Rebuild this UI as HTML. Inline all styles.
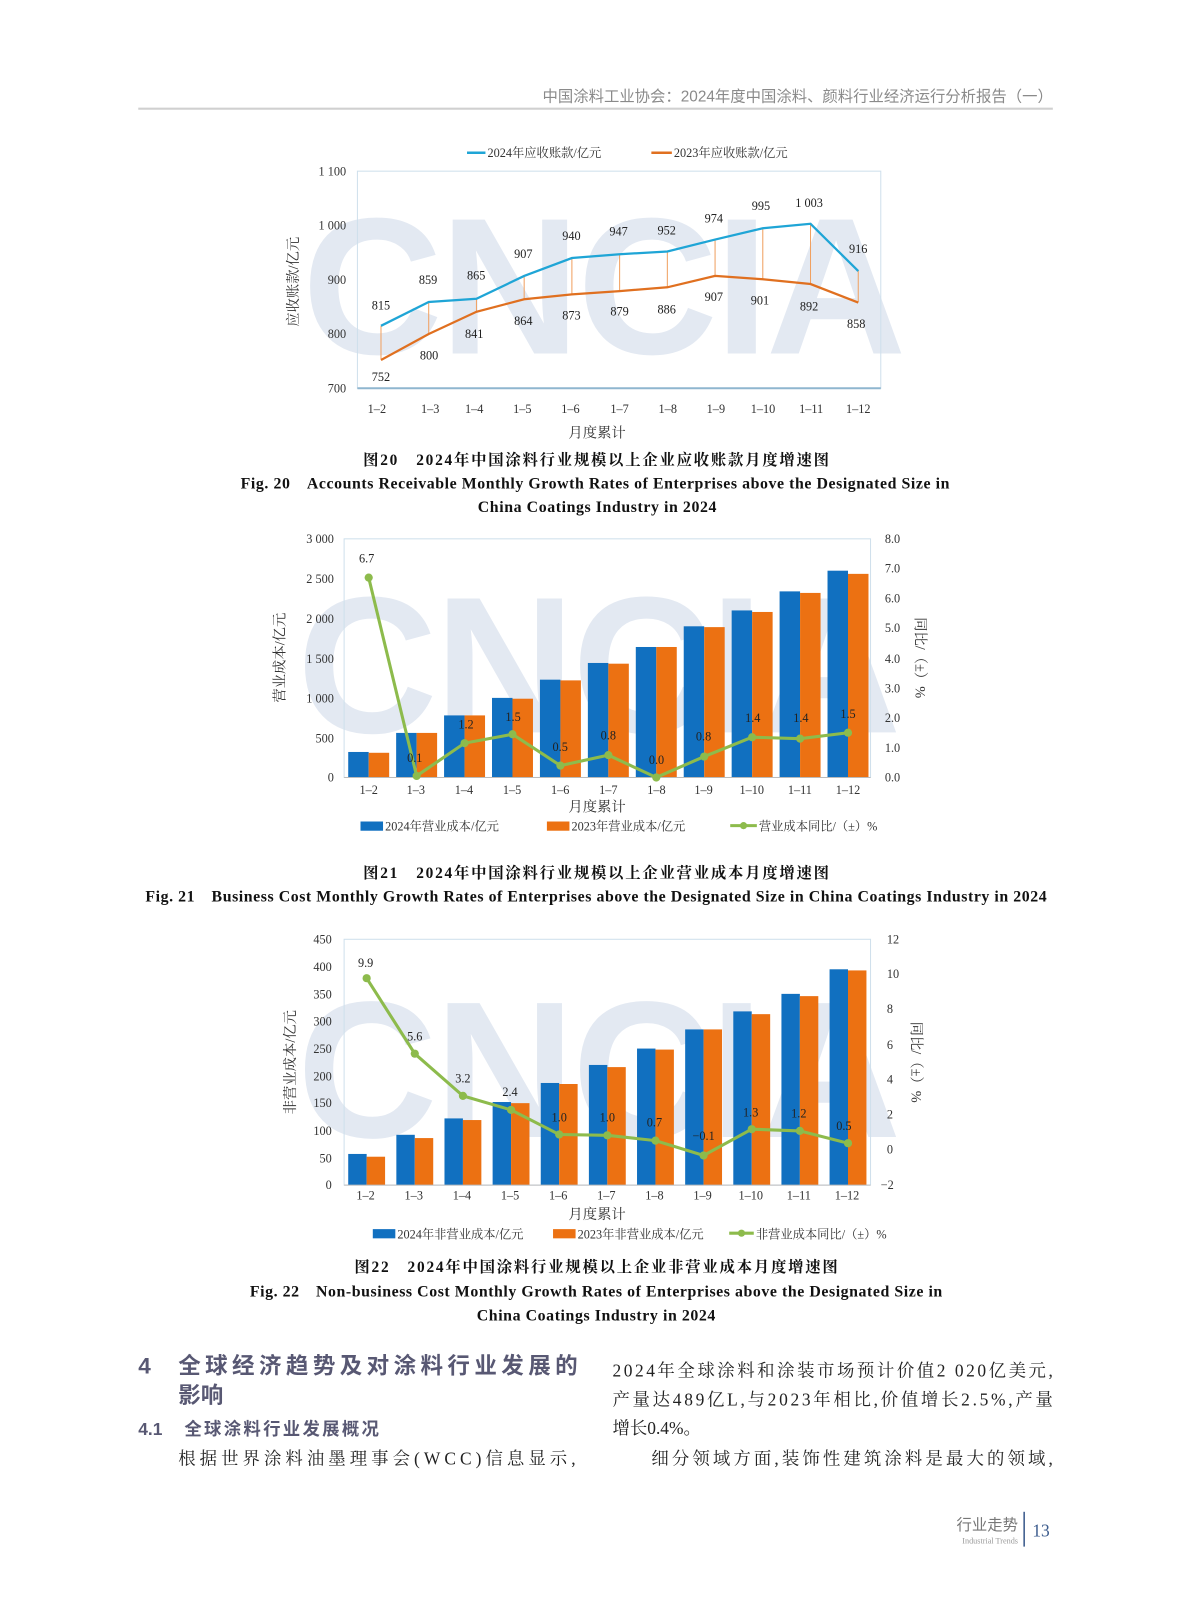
<!DOCTYPE html>
<html><head><meta charset="utf-8"><style>
html,body{margin:0;padding:0;background:#fff;}
svg{display:block;}
text{font-family:"Liberation Serif","Noto Serif CJK SC",serif;}
text.s,.s text{font-family:"Liberation Sans","Noto Sans CJK SC",sans-serif;}
</style></head><body>
<svg width="1187" height="1600" viewBox="0 0 1159 1562" xmlns="http://www.w3.org/2000/svg">
<rect width="1159" height="1562" fill="#fff"/>
<text x="1028" y="99" text-anchor="end" font-size="15" fill="#8a8a8a" class="s">中国涂料工业协会：2024年度中国涂料、颜料行业经济运行分析报告（一）</text>
<line x1="135" y1="106" x2="1028" y2="106" stroke="#d0d0d0" stroke-width="2"/>

<!-- ===== Chart 20 ===== -->
<text x="590" y="345" text-anchor="middle" font-size="190" font-weight="bold" fill="#e3e9f2" class="s" textLength="590">CNCIA</text>
<line x1="456" y1="149" x2="474" y2="149" stroke="#1fa5d6" stroke-width="2.5"/>
<text x="476" y="153" font-size="12" fill="#333">2024年应收账款/亿元</text>
<line x1="636" y1="149" x2="656" y2="149" stroke="#e07020" stroke-width="2.5"/>
<text x="658" y="153" font-size="12" fill="#333">2023年应收账款/亿元</text>
<rect x="349" y="167" width="511" height="212" fill="none" stroke="#cfe0ec" stroke-width="1"/>
<line x1="349" y1="379" x2="860" y2="379" stroke="#8fb6cf" stroke-width="2"/>
<g font-size="12" fill="#333" text-anchor="end">
<text x="338" y="171">1 100</text><text x="338" y="224">1 000</text><text x="338" y="277">900</text><text x="338" y="330">800</text><text x="338" y="383">700</text>
</g>
<text transform="translate(291,275) rotate(-90)" text-anchor="middle" font-size="14" fill="#333">应收账款/亿元</text>
<g font-size="12" fill="#333" text-anchor="middle">
<text x="368" y="403">1–2</text><text x="420" y="403">1–3</text><text x="463" y="403">1–4</text><text x="510" y="403">1–5</text><text x="557" y="403">1–6</text><text x="605" y="403">1–7</text><text x="652" y="403">1–8</text><text x="699" y="403">1–9</text><text x="745" y="403">1–10</text><text x="792" y="403">1–11</text><text x="838" y="403">1–12</text>
</g>
<text x="583" y="427" text-anchor="middle" font-size="14" fill="#333">月度累计</text>
<g stroke="#f0a060" stroke-width="1">
<line x1="372" y1="318" x2="372" y2="351"/><line x1="418.6" y1="295" x2="418.6" y2="326"/><line x1="465.2" y1="292" x2="465.2" y2="304"/><line x1="511.8" y1="269" x2="511.8" y2="292"/><line x1="558.4" y1="252" x2="558.4" y2="287"/><line x1="605" y1="248" x2="605" y2="284"/><line x1="651.6" y1="245" x2="651.6" y2="280"/><line x1="698.2" y1="234" x2="698.2" y2="269"/><line x1="744.8" y1="223" x2="744.8" y2="272"/><line x1="791.4" y1="218" x2="791.4" y2="277"/><line x1="838" y1="264" x2="838" y2="295"/>
</g>
<polyline fill="none" stroke="#1fa5d6" stroke-width="2.2" points="372,318 418.6,294.7 465.2,291.6 511.8,269.3 558.4,251.8 605,248.1 651.6,245.4 698.2,233.8 744.8,222.7 791.4,218.4 838,264.5"/>
<polyline fill="none" stroke="#e07020" stroke-width="2.2" points="372,351.4 418.6,326 465.2,304.3 511.8,292.1 558.4,287.3 605,284.1 651.6,280.4 698.2,269.3 744.8,272.5 791.4,277.2 838,295.3"/>
<g font-size="12" fill="#222" text-anchor="middle">
<text x="372" y="302">815</text><text x="418" y="277">859</text><text x="465" y="273">865</text><text x="511" y="252">907</text><text x="558" y="234">940</text><text x="604" y="230">947</text><text x="651" y="229">952</text><text x="697" y="217">974</text><text x="743" y="205">995</text><text x="790" y="202">1 003</text><text x="838" y="247">916</text>
<text x="372" y="372">752</text><text x="419" y="351">800</text><text x="463" y="330">841</text><text x="511" y="317">864</text><text x="558" y="312">873</text><text x="605" y="308">879</text><text x="651" y="306">886</text><text x="697" y="294">907</text><text x="742" y="297">901</text><text x="790" y="303">892</text><text x="836" y="320">858</text>
</g>
<text x="582" y="454" text-anchor="middle" font-size="15" font-weight="bold" fill="#111" textLength="455">图20　2024年中国涂料行业规模以上企业应收账款月度增速图</text>
<text x="581" y="477" text-anchor="middle" font-size="15.5" font-weight="bold" fill="#111" textLength="692">Fig. 20　Accounts Receivable Monthly Growth Rates of Enterprises above the Designated Size in</text>
<text x="583" y="500" text-anchor="middle" font-size="15.5" font-weight="bold" fill="#111" textLength="233">China Coatings Industry in 2024</text>

<!-- ===== Chart 21 ===== -->
<text x="585" y="715" text-anchor="middle" font-size="190" font-weight="bold" fill="#e3e9f2" class="s" textLength="590">CNCIA</text>
<rect x="336" y="526" width="514" height="233" fill="none" stroke="#cfe0ec"/>
<g font-size="12" fill="#333" text-anchor="end">
<text x="326" y="530">3 000</text><text x="326" y="569">2 500</text><text x="326" y="608">2 000</text><text x="326" y="647">1 500</text><text x="326" y="686">1 000</text><text x="326" y="725">500</text><text x="326" y="763">0</text>
</g>
<g font-size="12" fill="#333">
<text x="864" y="530">8.0</text><text x="864" y="559">7.0</text><text x="864" y="588">6.0</text><text x="864" y="617">5.0</text><text x="864" y="647">4.0</text><text x="864" y="676">3.0</text><text x="864" y="705">2.0</text><text x="864" y="734">1.0</text><text x="864" y="763">0.0</text>
</g>
<text transform="translate(278,642) rotate(-90)" text-anchor="middle" font-size="14" fill="#333">营业成本/亿元</text>
<text transform="translate(894,642) rotate(90)" text-anchor="middle" font-size="14" fill="#333">同比/（±）%</text>
<g fill="#1170c0">
<rect x="340" y="734.1" width="20" height="24.9"/><rect x="386.8" y="715.5" width="20" height="43.5"/><rect x="433.6" y="698.4" width="20" height="60.6"/><rect x="480.4" y="681.3" width="20" height="77.7"/><rect x="527.2" y="663.5" width="20" height="95.5"/><rect x="574" y="647.2" width="20" height="111.8"/><rect x="620.8" y="631.6" width="20" height="127.4"/><rect x="667.6" y="611.4" width="20" height="147.6"/><rect x="714.4" y="595.9" width="20" height="163.1"/><rect x="761.2" y="577.3" width="20" height="181.7"/><rect x="808" y="557.1" width="20" height="201.9"/>
</g>
<g fill="#ec7112">
<rect x="360" y="734.9" width="20" height="24.1"/><rect x="406.8" y="715.5" width="20" height="43.5"/><rect x="453.6" y="698.4" width="20" height="60.6"/><rect x="500.4" y="682.1" width="20" height="76.9"/><rect x="547.2" y="664.2" width="20" height="94.8"/><rect x="594" y="647.9" width="20" height="111.1"/><rect x="640.8" y="631.6" width="20" height="127.4"/><rect x="687.6" y="612.2" width="20" height="146.8"/><rect x="734.4" y="597.4" width="20" height="161.6"/><rect x="781.2" y="578.8" width="20" height="180.2"/><rect x="828" y="560.2" width="20" height="198.8"/>
</g>
<line x1="336" y1="759" x2="850" y2="759" stroke="#bbb"/>
<polyline fill="none" stroke="#8dbb4c" stroke-width="3" points="360,563.9 406.8,757.5 453.6,725.5 500.4,716.8 547.2,747.4 594,737.2 640.8,759 687.6,738.6 734.4,719.7 781.2,721.1 828,715.3"/>
<g fill="#8dbb4c">
<circle cx="360" cy="563.9" r="4"/><circle cx="406.8" cy="757.5" r="4"/><circle cx="453.6" cy="725.5" r="4"/><circle cx="500.4" cy="716.8" r="4"/><circle cx="547.2" cy="747.4" r="4"/><circle cx="594" cy="737.2" r="4"/><circle cx="640.8" cy="759" r="4"/><circle cx="687.6" cy="738.6" r="4"/><circle cx="734.4" cy="719.7" r="4"/><circle cx="781.2" cy="721.1" r="4"/><circle cx="828" cy="715.3" r="4"/>
</g>
<g font-size="12" fill="#222" text-anchor="middle">
<text x="358" y="549">6.7</text><text x="405" y="744">0.1</text><text x="455" y="711">1.2</text><text x="501" y="704">1.5</text><text x="547" y="733">0.5</text><text x="594" y="722">0.8</text><text x="641" y="746">0.0</text><text x="687" y="723">0.8</text><text x="735" y="705">1.4</text><text x="782" y="705">1.4</text><text x="828" y="701">1.5</text>
</g>
<g font-size="12" fill="#333" text-anchor="middle">
<text x="360" y="775">1–2</text><text x="406" y="775">1–3</text><text x="453" y="775">1–4</text><text x="500" y="775">1–5</text><text x="547" y="775">1–6</text><text x="594" y="775">1–7</text><text x="641" y="775">1–8</text><text x="687" y="775">1–9</text><text x="734" y="775">1–10</text><text x="781" y="775">1–11</text><text x="828" y="775">1–12</text>
</g>
<text x="583" y="792" text-anchor="middle" font-size="14" fill="#333">月度累计</text>
<rect x="352" y="802" width="22" height="9" fill="#1170c0"/><text x="376" y="811" font-size="12" fill="#333">2024年营业成本/亿元</text>
<rect x="534" y="802" width="22" height="9" fill="#ec7112"/><text x="558" y="811" font-size="12" fill="#333">2023年营业成本/亿元</text>
<line x1="713" y1="806" x2="739" y2="806" stroke="#8dbb4c" stroke-width="3"/><circle cx="726" cy="806" r="3.5" fill="#8dbb4c"/><text x="741" y="811" font-size="12" fill="#333">营业成本同比/（±）%</text>
<text x="582" y="857" text-anchor="middle" font-size="15" font-weight="bold" fill="#111" textLength="455">图21　2024年中国涂料行业规模以上企业营业成本月度增速图</text>
<text x="582" y="880" text-anchor="middle" font-size="15.5" font-weight="bold" fill="#111" textLength="880">Fig. 21　Business Cost Monthly Growth Rates of Enterprises above the Designated Size in China Coatings Industry in 2024</text>

<!-- ===== Chart 22 ===== -->
<text x="585" y="1110" text-anchor="middle" font-size="190" font-weight="bold" fill="#e3e9f2" class="s" textLength="590">CNCIA</text>
<rect x="336" y="917" width="514" height="240" fill="none" stroke="#cfe0ec"/>
<g font-size="12" fill="#333" text-anchor="end">
<text x="324" y="921">450</text><text x="324" y="948">400</text><text x="324" y="975">350</text><text x="324" y="1001">300</text><text x="324" y="1028">250</text><text x="324" y="1055">200</text><text x="324" y="1081">150</text><text x="324" y="1108">100</text><text x="324" y="1135">50</text><text x="324" y="1161">0</text>
</g>
<g font-size="12" fill="#333">
<text x="866" y="921">12</text><text x="866" y="955">10</text><text x="866" y="989">8</text><text x="866" y="1024">6</text><text x="866" y="1058">4</text><text x="866" y="1092">2</text><text x="866" y="1126">0</text><text x="860" y="1161">−2</text>
</g>
<text transform="translate(288,1037) rotate(-90)" text-anchor="middle" font-size="14" fill="#333">非营业成本/亿元</text>
<text transform="translate(890,1037) rotate(90)" text-anchor="middle" font-size="14" fill="#333">同比/（±）%</text>
<g fill="#1170c0">
<rect x="340" y="1126.6" width="18" height="30.4"/><rect x="387" y="1107.9" width="18" height="49.1"/><rect x="434" y="1091.9" width="18" height="65.1"/><rect x="481" y="1075.9" width="18" height="81.1"/><rect x="528" y="1057.3" width="18" height="99.7"/><rect x="575" y="1039.7" width="18" height="117.3"/><rect x="622" y="1023.7" width="18" height="133.3"/><rect x="669" y="1005" width="18" height="152"/><rect x="716" y="987.4" width="18" height="169.6"/><rect x="763" y="970.3" width="18" height="186.7"/><rect x="810" y="946.3" width="18" height="210.7"/>
</g>
<g fill="#ec7112">
<rect x="358" y="1129.3" width="18" height="27.7"/><rect x="405" y="1111.1" width="18" height="45.9"/><rect x="452" y="1093.5" width="18" height="63.5"/><rect x="499" y="1077" width="18" height="80"/><rect x="546" y="1058.3" width="18" height="98.7"/><rect x="593" y="1041.8" width="18" height="115.2"/><rect x="640" y="1024.7" width="18" height="132.3"/><rect x="687" y="1005" width="18" height="152"/><rect x="734" y="990.1" width="18" height="166.9"/><rect x="781" y="972.5" width="18" height="184.5"/><rect x="828" y="947.4" width="18" height="209.6"/>
</g>
<line x1="336" y1="1157" x2="850" y2="1157" stroke="#bbb"/>
<polyline fill="none" stroke="#8dbb4c" stroke-width="3" points="358,955 405,1028.7 452,1069.9 499,1083.6 546,1107.6 593,1108.4 640,1113.6 687,1128.1 734,1102.4 781,1104.1 828,1116.1"/>
<g fill="#8dbb4c">
<circle cx="358" cy="955" r="4"/><circle cx="405" cy="1028.7" r="4"/><circle cx="452" cy="1069.9" r="4"/><circle cx="499" cy="1083.6" r="4"/><circle cx="546" cy="1107.6" r="4"/><circle cx="593" cy="1108.4" r="4"/><circle cx="640" cy="1113.6" r="4"/><circle cx="687" cy="1128.1" r="4"/><circle cx="734" cy="1102.4" r="4"/><circle cx="781" cy="1104.1" r="4"/><circle cx="828" cy="1116.1" r="4"/>
</g>
<g font-size="12" fill="#222" text-anchor="middle">
<text x="357" y="944">9.9</text><text x="405" y="1016">5.6</text><text x="452" y="1057">3.2</text><text x="498" y="1070">2.4</text><text x="546" y="1095">1.0</text><text x="593" y="1095">1.0</text><text x="639" y="1100">0.7</text><text x="687" y="1113">−0.1</text><text x="733" y="1090">1.3</text><text x="780" y="1091">1.2</text><text x="824" y="1103">0.5</text>
</g>
<g font-size="12" fill="#333" text-anchor="middle">
<text x="357" y="1171">1–2</text><text x="404" y="1171">1–3</text><text x="451" y="1171">1–4</text><text x="498" y="1171">1–5</text><text x="545" y="1171">1–6</text><text x="592" y="1171">1–7</text><text x="639" y="1171">1–8</text><text x="686" y="1171">1–9</text><text x="733" y="1171">1–10</text><text x="780" y="1171">1–11</text><text x="827" y="1171">1–12</text>
</g>
<text x="583" y="1190" text-anchor="middle" font-size="14" fill="#333">月度累计</text>
<rect x="364" y="1200" width="22" height="9" fill="#1170c0"/><text x="388" y="1209" font-size="12" fill="#333">2024年非营业成本/亿元</text>
<rect x="540" y="1200" width="22" height="9" fill="#ec7112"/><text x="564" y="1209" font-size="12" fill="#333">2023年非营业成本/亿元</text>
<line x1="712" y1="1204" x2="736" y2="1204" stroke="#8dbb4c" stroke-width="3"/><circle cx="724" cy="1204" r="3.5" fill="#8dbb4c"/><text x="738" y="1209" font-size="12" fill="#333">非营业成本同比/（±）%</text>
<text x="582" y="1242" text-anchor="middle" font-size="15" font-weight="bold" fill="#111" textLength="472">图22　2024年中国涂料行业规模以上企业非营业成本月度增速图</text>
<text x="582" y="1266" text-anchor="middle" font-size="15.5" font-weight="bold" fill="#111" textLength="676">Fig. 22　Non-business Cost Monthly Growth Rates of Enterprises above the Designated Size in</text>
<text x="582" y="1289" text-anchor="middle" font-size="15.5" font-weight="bold" fill="#111" textLength="233">China Coatings Industry in 2024</text>

<g class="s" fill="#585873" font-weight="bold">
<text x="135" y="1341" font-size="22">4</text>
<text x="174" y="1341" font-size="22" textLength="390">全球经济趋势及对涂料行业发展的</text>
<text x="174" y="1370" font-size="22">影响</text>
<text x="135" y="1401" font-size="17">4.1</text>
<text x="180" y="1401" font-size="17" textLength="190">全球涂料行业发展概况</text>
</g>
<g font-size="17" fill="#222">
<text x="174" y="1430" textLength="388">根据世界涂料油墨理事会(WCC)信息显示,</text>
<text x="598" y="1344" textLength="430">2024年全球涂料和涂装市场预计价值2 020亿美元,</text>
<text x="598" y="1372" textLength="430">产量达489亿L,与2023年相比,价值增长2.5%,产量</text>
<text x="598" y="1400">增长0.4%。</text>
<text x="636" y="1430" textLength="392">细分领域方面,装饰性建筑涂料是最大的领域,</text>
</g>
<text x="994" y="1494" text-anchor="end" font-size="15" fill="#777" class="s">行业走势</text>
<text x="994" y="1507" text-anchor="end" font-size="8" fill="#999">Industrial Trends</text>
<line x1="1000" y1="1476" x2="1000" y2="1510" stroke="#3a5a8c" stroke-width="1.5"/>
<text x="1008" y="1500" font-size="17" fill="#3a5a8c">13</text>
</svg>
</body></html>
